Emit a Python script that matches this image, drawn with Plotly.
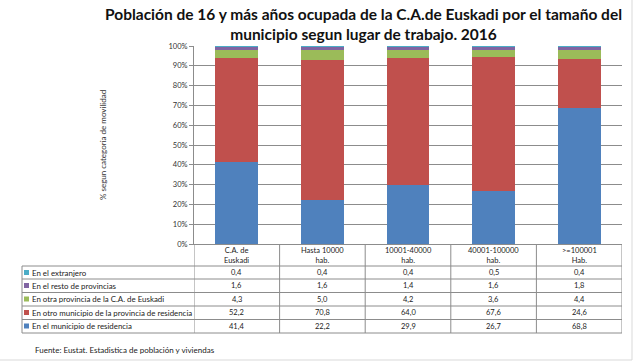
import plotly.graph_objects as go

categories = ["C.A. de<br>Euskadi", "Hasta 10000<br>hab.", "10001-40000<br>hab.", "40001-100000<br>hab.", ">=100001<br>Hab."]
series_names = [
    "En el municipio de residencia",
    "En otro municipio de la provincia de residencia",
    "En otra provincia de la C.A. de Euskadi",
    "En el resto de provincias",
    "En el extranjero",
]
municipio = [41.4, 22.2, 29.9, 26.7, 68.8]
otro_municipio = [52.2, 70.8, 64.0, 67.6, 24.6]
otra_provincia = [4.3, 5.0, 4.2, 3.6, 4.4]
resto_provincias = [1.6, 1.6, 1.4, 1.6, 1.8]
extranjero = [0.4, 0.4, 0.4, 0.5, 0.4]
series_values = [municipio, otro_municipio, otra_provincia, resto_provincias, extranjero]
colors = ["#4F81BD", "#C0504D", "#9BBB59", "#8064A2", "#4BACC6"]
y_ticks = [0, 10, 20, 30, 40, 50, 60, 70, 80, 90, 100]
y_tick_labels = [f"{v}%" for v in y_ticks]

W, H = 635, 362
L, R, T, B = 194, 622, 46, 244  # plot area in pixels
pw, ph = R - L, B - T

def px(x):
    return (x - L) / pw

def py(y):
    return (B - y) / ph

FONT = "Lato"
fig = go.Figure()
for name, vals, col in zip(series_names, series_values, colors):
    fig.add_trace(go.Bar(x=categories, y=vals, name=name, marker=dict(color=col, line=dict(width=0)),
                         showlegend=False, hoverinfo="skip"))

fig.update_layout(
    width=W, height=H, barmode="stack", barnorm="percent", bargap=0.5,
    margin=dict(l=L, r=W - R, t=T, b=H - B, pad=0, autoexpand=False),
    paper_bgcolor="white", plot_bgcolor="white",
    font=dict(family=FONT, size=8, color="#222"),
    xaxis=dict(showticklabels=False, ticks="", showgrid=False, showline=True, automargin=False,
               linecolor="#8C8C8C", linewidth=1, range=[-0.5, 4.5]),
    yaxis=dict(range=[0, 100], tickvals=y_ticks, ticktext=y_tick_labels, showgrid=True, automargin=False,
               gridcolor="#8C8C8C", gridwidth=1, showline=True, linecolor="#8C8C8C",
               linewidth=1, ticks="outside", ticklen=4, tickcolor="#8C8C8C",
               tickfont=dict(size=7.5, family=FONT, color="#333"), zeroline=False),
)

shapes = []
line_col = "#8C8C8C"
row_lines = [266, 279, 292.5, 306, 319.5, 333]
for yy in row_lines:
    shapes.append(dict(type="line", xref="paper", yref="paper", x0=px(22), x1=px(R), y0=py(yy), y1=py(yy),
                       line=dict(color=line_col, width=1)))
shapes.append(dict(type="line", xref="paper", yref="paper", x0=px(22), x1=px(22), y0=py(266), y1=py(333),
                   line=dict(color=line_col, width=1)))
for k in range(len(categories) + 1):
    shapes.append(dict(type="line", xref="x", yref="paper", x0=k - 0.5, x1=k - 0.5, y0=py(244), y1=py(333),
                       line=dict(color=line_col, width=1)))
shapes.append(dict(type="line", xref="paper", yref="paper", x0=px(0), x1=px(632), y0=py(360), y1=py(360),
                   line=dict(color="#D9D9D9", width=1)))
shapes.append(dict(type="line", xref="paper", yref="paper", x0=px(632), x1=px(632), y0=py(0), y1=py(360),
                   line=dict(color="#D9D9D9", width=1)))

annotations = []
annotations.append(dict(xref="paper", yref="paper", x=px(363), y=py(24), xanchor="center", yanchor="middle",
                        text="<b>Población de 16 y más años ocupada de la C.A.de Euskadi por el tamaño del<br>municipio segun lugar de trabajo. 2016</b>",
                        showarrow=False, font=dict(family=FONT, size=15.5, color="#111")))
annotations.append(dict(xref="paper", yref="paper", x=px(103), y=py(145), xanchor="center", yanchor="middle",
                        text="% segun categoria de movilidad", textangle=-90, showarrow=False,
                        font=dict(family=FONT, size=8, color="#333")))
for c in categories:
    annotations.append(dict(xref="x", yref="paper", x=c, y=py(255), xanchor="center", yanchor="middle",
                            text=c, showarrow=False, font=dict(family=FONT, size=7.5, color="#222")))
row_centers = [272.5, 285.5, 299, 312.5, 326]
order = list(range(len(series_names)))[::-1]
for r, si in enumerate(order):
    yc = row_centers[r]
    shapes.append(dict(type="rect", xref="paper", yref="paper", x0=px(24), x1=px(29), y0=py(yc + 2.5), y1=py(yc - 2.5),
                       fillcolor=colors[si], line=dict(width=0)))
    annotations.append(dict(xref="paper", yref="paper", x=px(30), y=py(yc), xanchor="left", yanchor="middle",
                            text=series_names[si], showarrow=False, font=dict(family=FONT, size=7.9, color="#222")))
    for c, v in zip(categories, series_values[si]):
        annotations.append(dict(xref="x", yref="paper", x=c, y=py(yc), xanchor="center", yanchor="middle",
                                text=f"{v:.1f}".replace(".", ","), showarrow=False,
                                font=dict(family=FONT, size=7.5, color="#222")))
annotations.append(dict(xref="paper", yref="paper", x=px(33), y=py(350), xanchor="left", yanchor="middle",
                        text="Fuente: Eustat. Estadistica de población y viviendas", showarrow=False,
                        font=dict(family=FONT, size=8, color="#222")))

fig.update_layout(shapes=shapes, annotations=annotations)
fig.write_html("out.html", config={"displayModeBar": False},
               post_script="document.body.style.margin='0px';")
